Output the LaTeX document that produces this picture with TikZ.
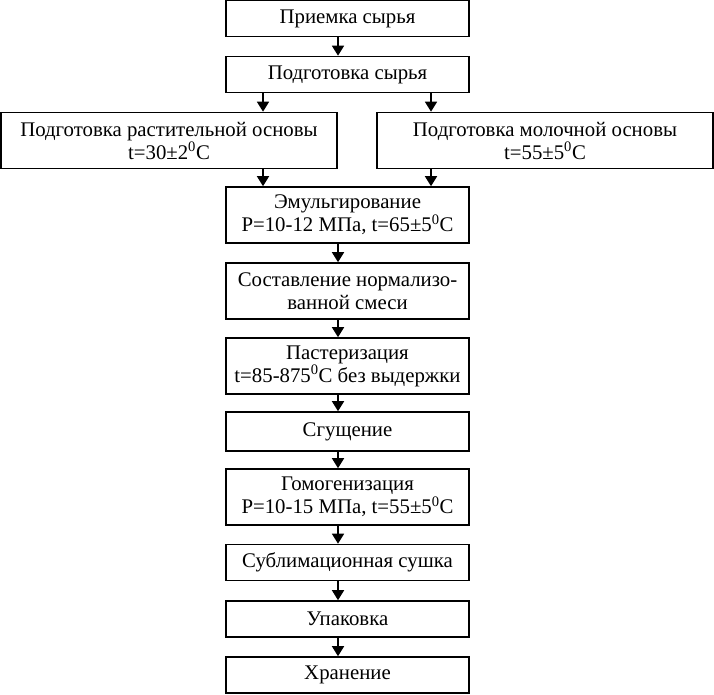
\documentclass[tikz,border=0pt]{standalone}
\usepackage{fontspec}
\setmainfont{Liberation Serif}
\usetikzlibrary{arrows.meta}

\begin{document}
\begin{tikzpicture}[x=1pt,y=-1pt,
  box/.style={draw, line width=1.6pt, rectangle, align=center, inner sep=0pt, minimum width=243pt, font=\fontsize{20.8}{23}\selectfont},
  one/.style={minimum height=36pt},
  two/.style={minimum height=56pt},
  side/.style={minimum width=336pt},
  arr/.style={line width=1.6pt, -{Triangle[length=10pt,width=12pt]}}]
\useasboundingbox (0,0) rectangle (714,695);
\coordinate (mid) at (338,0);
\coordinate (lft) at (263,0);
\coordinate (rgt) at (431,0);

\node[box, one] (prm) at (347.5,18.5){Приемка сырья};
\node[box, one] (pdg) at (347.5,74.5){Подготовка сырья};
\node[box, two, side] (rast) at (169,140.5){Подготовка растительной основы\\t=30±2\textsuperscript{0}С};
\node[box, two, side] (mol) at (545,140.5){Подготовка молочной основы\\t=55±5\textsuperscript{0}С};
\node[box, two] (eml) at (347.5,215){Эмульгирование\\Р=10-12 МПа, t=65±5\textsuperscript{0}С};
\node[box, two] (sost) at (347.5,291){Составление нормализо-\\ванной смеси};
\node[box, two] (past) at (347.5,366){Пастеризация\\t=85-875\textsuperscript{0}С без выдержки};
\node[box, one, minimum height=39pt] (sgu) at (347.5,431.5){Сгущение};
\node[box, two] (gom) at (347.5,497){Гомогенизация\\Р=10-15 МПа, t=55±5\textsuperscript{0}С};
\node[box, one] (sub) at (347.5,562.5){Сублимационная сушка};
\node[box, one] (upk) at (347.5,619){Упаковка};
\node[box, one] (hrn) at (347.5,675){Хранение};

\draw[arr](prm.south -| mid) -- (pdg.north -| mid);
\draw[arr](pdg.south -| lft) -- (rast.north -| lft);
\draw[arr](pdg.south -| rgt) -- (mol.north -| rgt);
\draw[arr](rast.south -| lft) -- (eml.north -| lft);
\draw[arr](mol.south -| rgt) -- (eml.north -| rgt);
\draw[arr](eml.south -| mid) -- (sost.north -| mid);
\draw[arr](sost.south -| mid) -- (past.north -| mid);
\draw[arr](past.south -| mid) -- (sgu.north -| mid);
\draw[arr](sgu.south -| mid) -- (gom.north -| mid);
\draw[arr](gom.south -| mid) -- (sub.north -| mid);
\draw[arr](sub.south -| mid) -- (upk.north -| mid);
\draw[arr](upk.south -| mid) -- (hrn.north -| mid);

\end{tikzpicture}
\end{document}
